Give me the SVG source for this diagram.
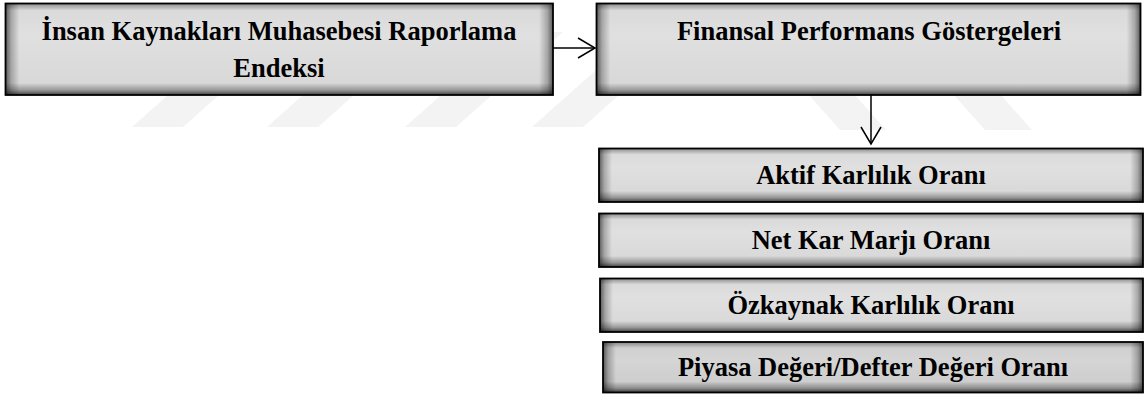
<svg xmlns="http://www.w3.org/2000/svg" width="1145" height="394" viewBox="0 0 1145 394">
  <style>
    .fill { fill: url(#boxFill); }
    .fill.dark { fill: url(#boxFillDark); }
    .frame { fill: none; stroke: #000; stroke-width: 1.8; }
    .sl { fill: url(#gL); }
    .sr { fill: url(#gR); }
    .sb { fill: url(#gB); }
    .st { fill: url(#gT); }
    .lbl { font-family: "Liberation Serif", "Times New Roman", serif; font-weight: bold; font-size: 26.5px; fill: #000; text-anchor: middle; }
    .conn { stroke: #000; stroke-width: 1.5; fill: none; marker-end: url(#openArrow); }
    .wm { fill: #f3f3f3; }
  </style>
  <defs>
    <linearGradient id="boxFill" x1="0" y1="0" x2="0" y2="1">
      <stop offset="0" stop-color="#d8d8d8"/>
      <stop offset="0.35" stop-color="#e0e0e0"/>
      <stop offset="1" stop-color="#d6d6d6"/>
    </linearGradient>
    <linearGradient id="boxFillDark" x1="0" y1="0" x2="0" y2="1">
      <stop offset="0" stop-color="#cccccc"/>
      <stop offset="0.35" stop-color="#d5d5d5"/>
      <stop offset="1" stop-color="#cacaca"/>
    </linearGradient>
    <linearGradient id="gL" x1="0" y1="0" x2="1" y2="0">
      <stop offset="0" stop-color="#000" stop-opacity="0.6"/>
      <stop offset="0.4" stop-color="#000" stop-opacity="0.25"/>
      <stop offset="1" stop-color="#000" stop-opacity="0"/>
    </linearGradient>
    <linearGradient id="gR" x1="1" y1="0" x2="0" y2="0">
      <stop offset="0" stop-color="#000" stop-opacity="0.6"/>
      <stop offset="0.4" stop-color="#000" stop-opacity="0.25"/>
      <stop offset="1" stop-color="#000" stop-opacity="0"/>
    </linearGradient>
    <linearGradient id="gB" x1="0" y1="1" x2="0" y2="0">
      <stop offset="0" stop-color="#000" stop-opacity="0.7"/>
      <stop offset="0.4" stop-color="#000" stop-opacity="0.3"/>
      <stop offset="1" stop-color="#000" stop-opacity="0"/>
    </linearGradient>
    <linearGradient id="gT" x1="0" y1="0" x2="0" y2="1">
      <stop offset="0" stop-color="#000" stop-opacity="0.35"/>
      <stop offset="1" stop-color="#000" stop-opacity="0"/>
    </linearGradient>
    <marker id="openArrow" markerUnits="userSpaceOnUse" markerWidth="22" markerHeight="24" refX="18" refY="11" orient="auto">
      <path d="M1,1 L18,11 L1,21" fill="none" stroke="#000" stroke-width="1.5"/>
    </marker>
  </defs>

  <g id="watermark">
    <polygon class="wm" points="132,127 183,127 290,32 239,32"/>
    <polygon class="wm" points="267,127 318,127 425,32 374,32"/>
    <polygon class="wm" points="405,127 456,127 563,32 512,32"/>
    <polygon class="wm" points="532,127 583,127 690,32 639,32"/>
    <polygon class="wm" points="840,130 886,130 806,40 760,40"/>
    <polygon class="wm" points="985,130 1032,130 952,40 905,40"/>
  </g>

  <g id="connectors">
    <line class="conn" x1="553" y1="48" x2="595" y2="48"/>
    <line class="conn" x1="871" y1="95" x2="871" y2="144"/>
  </g>

  <g id="node-ik">
    <rect class="fill" x="5.5" y="3.5" width="547.5" height="91.5"/>
    <rect class="st" x="5.5" y="3.5" width="547.5" height="7"/>
    <rect class="sl" x="5.5" y="3.5" width="14" height="91.5"/>
    <rect class="sr" x="539" y="3.5" width="14" height="91.5"/>
    <rect class="sb" x="5.5" y="83" width="547.5" height="12"/>
    <rect class="frame" x="5.5" y="3.5" width="547.5" height="91.5"/>
    <text class="lbl" x="279" y="40">İnsan Kaynakları Muhasebesi Raporlama</text>
    <text class="lbl" x="279" y="77">Endeksi</text>
  </g>

  <g id="node-fpg">
    <rect class="fill" x="596.5" y="3.5" width="544" height="91.5"/>
    <rect class="st" x="596.5" y="3.5" width="544" height="7"/>
    <rect class="sl" x="596.5" y="3.5" width="14" height="91.5"/>
    <rect class="sr" x="1126.5" y="3.5" width="14" height="91.5"/>
    <rect class="sb" x="596.5" y="83" width="544" height="12"/>
    <rect class="frame" x="596.5" y="3.5" width="544" height="91.5"/>
    <text class="lbl" x="869" y="40">Finansal Performans Göstergeleri</text>
  </g>

  <g id="node-aktif">
    <rect class="fill" x="599" y="148.5" width="544" height="53.5"/>
    <rect class="st" x="599" y="148.5" width="544" height="6"/>
    <rect class="sl" x="599" y="148.5" width="13" height="53.5"/>
    <rect class="sr" x="1130" y="148.5" width="13" height="53.5"/>
    <rect class="sb" x="599" y="191" width="544" height="11"/>
    <rect class="frame" x="599" y="148.5" width="544" height="53.5"/>
    <text class="lbl" x="871" y="184">Aktif Karlılık Oranı</text>
  </g>

  <g id="node-netkar">
    <rect class="fill" x="599" y="213.5" width="544" height="53.5"/>
    <rect class="st" x="599" y="213.5" width="544" height="6"/>
    <rect class="sl" x="599" y="213.5" width="13" height="53.5"/>
    <rect class="sr" x="1130" y="213.5" width="13" height="53.5"/>
    <rect class="sb" x="599" y="256" width="544" height="11"/>
    <rect class="frame" x="599" y="213.5" width="544" height="53.5"/>
    <text class="lbl" x="871" y="249">Net Kar Marjı Oranı</text>
  </g>

  <g id="node-ozkaynak">
    <rect class="fill" x="600" y="278.5" width="543" height="53.5"/>
    <rect class="st" x="600" y="278.5" width="543" height="6"/>
    <rect class="sl" x="600" y="278.5" width="13" height="53.5"/>
    <rect class="sr" x="1130" y="278.5" width="13" height="53.5"/>
    <rect class="sb" x="600" y="321" width="543" height="11"/>
    <rect class="frame" x="600" y="278.5" width="543" height="53.5"/>
    <text class="lbl" x="871" y="314">Özkaynak Karlılık Oranı</text>
  </g>

  <g id="node-piyasa">
    <rect class="fill dark" x="603" y="342" width="540" height="50.5"/>
    <rect class="st" x="603" y="342" width="540" height="6"/>
    <rect class="sl" x="603" y="342" width="13" height="50.5"/>
    <rect class="sr" x="1130" y="342" width="13" height="50.5"/>
    <rect class="sb" x="603" y="381.5" width="540" height="11"/>
    <rect class="frame" x="603" y="342" width="540" height="50.5"/>
    <text class="lbl" x="873" y="376">Piyasa Değeri/Defter Değeri Oranı</text>
  </g>
</svg>
